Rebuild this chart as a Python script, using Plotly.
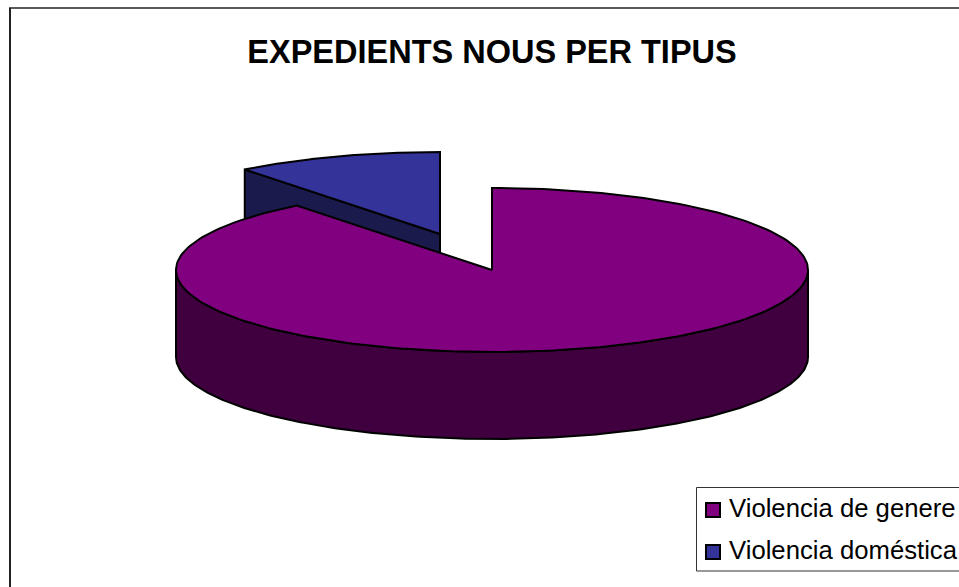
import numpy as np
import plotly.graph_objects as go

# Data
categories = ["Violencia de genere", "Violencia doméstica"]
values = [89.4, 10.6]
top_colors = ["#800080", "#333399"]
side_colors = ["#400040", "#1A1A4D"]
title_text = "EXPEDIENTS NOUS PER TIPUS"

W, H = 959, 587
CX, CY, RX, RY = 492.0, 270.0, 316.0, 82.0
DEPTH = 87.0
EXPLODE_DX, EXPLODE_DY = -52.0, -36.0
LINE = dict(color="#000000", width=2)
KEY_X, KEY_TEXT_X, KEY_Y0, KEY_DY = 713, 727, 510, 42

fractions = np.array(values, dtype=float) / sum(values)
sweep = 2 * np.pi * fractions


def rim(a0, a1, cx=CX, cy=CY, n=240):
    """Ellipse rim; angle measured clockwise from the top."""
    t = np.linspace(a0, a1, n)
    return cx + RX * np.sin(t), cy - RY * np.cos(t)


fig = go.Figure()


def poly(xs, ys, fill):
    fig.add_trace(go.Scatter(x=list(xs), y=list(ys), mode="lines", fill="toself",
                             fillcolor=fill, line=LINE, hoverinfo="skip", showlegend=False))


# exploded slice (drawn first, the big slice overlaps it)
a0, a1 = sweep[0], 2 * np.pi
bx, by = CX + EXPLODE_DX, CY + EXPLODE_DY
ex, ey = rim(a0, a0, bx, by, 1)
poly([bx, ex[0], ex[0], bx, bx], [by, ey[0], ey[0] + DEPTH, by + DEPTH, by], side_colors[1])
rx_, ry_ = rim(a0, a1, bx, by)
poly(np.r_[bx, rx_, bx], np.r_[by, ry_, by], top_colors[1])

# big slice: outer wall on the front half, then the top face
sx, sy = rim(np.pi / 2, 3 * np.pi / 2)
poly(np.r_[sx, sx[::-1], sx[0]], np.r_[sy, sy[::-1] + DEPTH, sy[0]], side_colors[0])
tx, ty = rim(0, sweep[0])
poly(np.r_[CX, tx, CX], np.r_[CY, ty, CY], top_colors[0])

# key: the box runs off the right edge of the page, as in the reference
annotations = []
for i, (name, col) in enumerate(zip(categories, top_colors)):
    y = KEY_Y0 + i * KEY_DY
    fig.add_trace(go.Scatter(x=[KEY_X], y=[y], mode="markers", name=name, showlegend=False,
                             marker=dict(symbol="square", size=14, color=col,
                                         line=dict(color="#000000", width=2))))
    annotations.append(dict(x=KEY_TEXT_X, y=y - 2, xref="x", yref="y", text=name, showarrow=False,
                            xanchor="left", yanchor="middle",
                            font=dict(family="Liberation Sans", size=25.7, color="#000000")))

fig.update_layout(
    width=W, height=H, margin=dict(l=0, r=0, t=0, b=0),
    autosize=False, paper_bgcolor="white", plot_bgcolor="white", showlegend=False,
    xaxis=dict(range=[0, W], visible=False, fixedrange=True),
    yaxis=dict(range=[H, 0], visible=False, fixedrange=True),
    title=dict(text=f"<b>{title_text}</b>", x=492 / W, xanchor="center", y=1 - 52 / H, yanchor="middle",
               font=dict(family="Liberation Sans", size=32.5, color="#000000")),
    annotations=annotations,
    shapes=[
        dict(type="line", xref="x", yref="y", x0=10, x1=10, y0=8, y1=H, line=dict(color="#222222", width=2)),
        dict(type="line", xref="x", yref="y", x0=9, x1=W, y0=8, y1=8, line=dict(color="#222222", width=1.5)),
        dict(type="rect", xref="x", yref="y", x0=696.5, x1=W + 10, y0=487.5, y1=571, layer="below",
             line=dict(color="#333333", width=1), fillcolor="white"),
    ],
)
fig.write_html(
    "out.html",
    config={"displayModeBar": False},
    post_script=(
        "document.documentElement.style.overflow='hidden';"
        "document.body.style.overflow='hidden';"
        "document.body.style.margin='0';"
    ),
)
